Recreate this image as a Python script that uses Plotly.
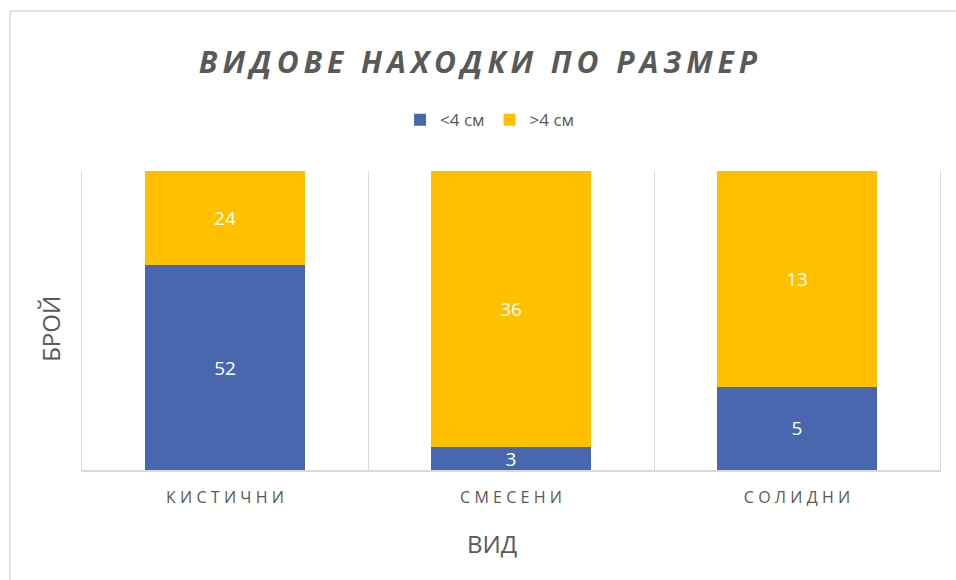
import plotly.graph_objects as go

categories = ["КИСТИЧНИ", "СМЕСЕНИ", "СОЛИДНИ"]
small = [52, 3, 5]
large = [24, 36, 13]
series_names = ["<4 см", ">4 см"]
colors = ["#4967AE", "#FFC000"]
x_title = "ВИД"
y_title = "БРОЙ"
chart_title = "ВИДОВЕ НАХОДКИ ПО РАЗМЕР"

def spaced(s, sep="\u2009"):
    return sep.join(list(s))

tick_labels = [spaced(c, "\u2009\u200a") for c in categories]

fig = go.Figure()
for name, vals, col in zip(series_names, [small, large], colors):
    fig.add_trace(go.Bar(
        x=categories, y=vals, name=name, marker_color=col,
        marker_line_width=0,
        text=vals, textposition="inside", insidetextanchor="middle",
        textangle=0, constraintext="none",
        textfont=dict(color="white", size=19, family="Open Sans"),
        hoverinfo="x+y+name",
    ))

fig.update_layout(
    barmode="stack", barnorm="percent", bargap=0.44,
    width=956, height=580,
    margin=dict(l=82, r=16, t=171, b=110),
    paper_bgcolor="white", plot_bgcolor="white",
    font=dict(family="Open Sans", color="#595959"),
    title=dict(text=spaced(chart_title, "\u2009"),
               x=0.5, xanchor="center", xref="container", y=0.893, yanchor="middle",
               font=dict(size=30, family="Open Sans", weight="bold", style="italic", color="#595959")),
    legend=dict(orientation="h", x=0.475, xanchor="center", y=1.17, yanchor="middle",
                font=dict(size=17, color="#595959"), traceorder="normal",
                itemwidth=30),
    uniformtext=dict(mode="show", minsize=8),
    shapes=[dict(type="rect", xref="paper", yref="paper",
                 x0=-0.0839, x1=1.2, y0=-0.6, y1=1.535,
                 line=dict(color="#D9D9D9", width=1.5), fillcolor="rgba(0,0,0,0)", layer="below")],
    annotations=[
        dict(text=x_title, xref="paper", yref="paper", x=0.478, y=-0.245,
             xanchor="center", yanchor="middle", showarrow=False,
             font=dict(size=24, color="#595959")),
        dict(text=y_title, xref="paper", yref="paper", x=-0.037, y=0.473,
             xanchor="center", yanchor="middle", showarrow=False, textangle=-90,
             font=dict(size=24, color="#595959")),
    ],
)
fig.update_xaxes(
    tickvals=categories, ticktext=tick_labels,
    tickson="boundaries", showgrid=True, gridcolor="#D9D9D9", gridwidth=1,
    showline=True, linecolor="#D9D9D9", linewidth=1.5, ticks="", ticklen=0,
    ticklabelstandoff=12,
    tickfont=dict(size=16, color="#595959"),
    mirror=False,
)
fig.update_yaxes(
    range=[0, 100], showticklabels=False, showgrid=False, zeroline=False,
    showline=True, linecolor="#D9D9D9", linewidth=1, mirror=True, ticks="",
)
fig.write_html("out.html", config={"displayModeBar": False},
               post_script="document.body.style.margin='0';")
